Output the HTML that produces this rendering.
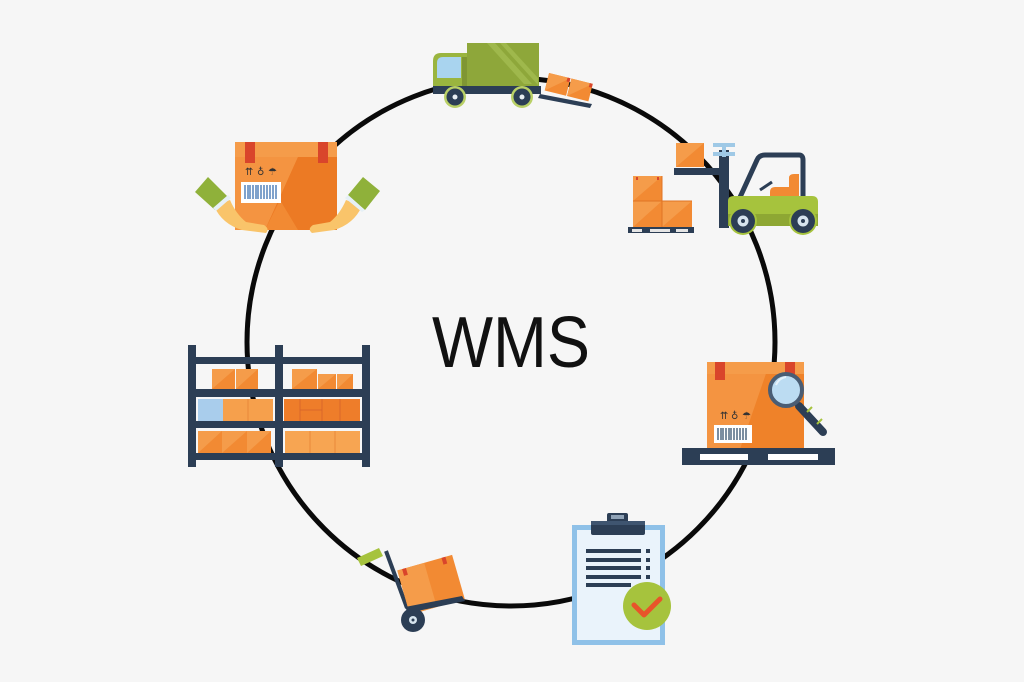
<!DOCTYPE html>
<html><head><meta charset="utf-8"><style>
html,body{margin:0;padding:0;background:#f6f6f6;}
svg{display:block;}
</style></head><body>
<svg width="1024" height="682" viewBox="0 0 1024 682" xmlns="http://www.w3.org/2000/svg">
<rect width="1024" height="682" fill="#f6f6f6"/>
<!-- main circle -->
<circle cx="511" cy="342" r="264" fill="none" stroke="#0a0a0a" stroke-width="5"/>
<text x="432" y="367" font-family="'Liberation Sans', 'DejaVu Sans', sans-serif" font-size="72" fill="#111" textLength="158" lengthAdjust="spacingAndGlyphs">WMS</text>

<!-- TRUCK -->
<g>
 <rect x="467" y="43" width="72" height="47" fill="#8ea73a"/>
 <polygon points="487,43 495,43 532,84 524,84" fill="#9fb84c"/>
 <polygon points="500,43 506,43 538,78 538,85" fill="#9fb84c"/>
 <path d="M433,92 V61 Q433,53 441,53 H467 V92Z" fill="#9ab53f"/>
 <path d="M437,78 V63 Q437,57 443,57 H461 V78Z" fill="#a9d4ef"/>
 <rect x="462" y="57" width="5" height="30" fill="#7f9633"/>
 <rect x="433" y="86" width="108" height="8" fill="#2c3e55"/>
 <circle cx="455" cy="97" r="11" fill="#b9d066"/>
 <circle cx="455" cy="97" r="8.5" fill="#2c3e55"/>
 <circle cx="455" cy="97" r="2.5" fill="#e8eef2"/>
 <circle cx="522" cy="97" r="11" fill="#b9d066"/>
 <circle cx="522" cy="97" r="8.5" fill="#2c3e55"/>
 <circle cx="522" cy="97" r="2.5" fill="#e8eef2"/>
 <polygon points="540,94 592,104 590,108 538,98" fill="#2c3e55"/>
 <g transform="rotate(14 568 88)">
  <rect x="546" y="78" width="22" height="18" fill="#f28a33"/>
  <rect x="569" y="78" width="22" height="18" fill="#f28a33"/>
  <polygon points="546,78 568,78 546,96" fill="#f59c4a"/>
  <polygon points="569,78 591,78 569,96" fill="#f59c4a"/>
  <rect x="565" y="78" width="3" height="4" fill="#d9452b"/>
  <rect x="588" y="78" width="3" height="4" fill="#d9452b"/>
 </g>
</g>

<!-- FORKLIFT -->
<g>
 <rect x="628" y="227" width="66" height="6" fill="#2c3e55"/>
 <rect x="632" y="229" width="10" height="3" fill="#e5e5e5"/>
 <rect x="650" y="229" width="20" height="3" fill="#e5e5e5"/>
 <rect x="676" y="229" width="12" height="3" fill="#e5e5e5"/>
 <rect x="633" y="176" width="29" height="25" fill="#f28a33"/>
 <rect x="633" y="201" width="29" height="26" fill="#f28a33"/>
 <rect x="662" y="201" width="30" height="26" fill="#f28a33"/>
 <polygon points="633,176 662,176 633,201" fill="#f59c4a"/>
 <polygon points="633,201 662,201 633,227" fill="#f59c4a"/>
 <polygon points="662,201 692,201 662,227" fill="#f59c4a"/>
 <line x1="662" y1="176" x2="662" y2="227" stroke="#e07424" stroke-width="1"/>
 <line x1="633" y1="201" x2="692" y2="201" stroke="#e07424" stroke-width="1"/>
 <rect x="636" y="177" width="2" height="3" fill="#d9452b"/>
 <rect x="657" y="177" width="2" height="3" fill="#d9452b"/>
 <rect x="676" y="143" width="28" height="24" fill="#f28a33"/>
 <polygon points="676,143 704,143 676,167" fill="#f59c4a"/>
 <rect x="674" y="168" width="52" height="7" fill="#2c3e55"/>
 <rect x="719" y="150" width="10" height="78" fill="#2c3e55"/>
 <rect x="713" y="143" width="22" height="4" fill="#9fc9e6"/>
 <rect x="713" y="152" width="22" height="4" fill="#9fc9e6"/>
 <rect x="722" y="145" width="4" height="12" fill="#9fc9e6"/>
 <path d="M736,206 L757,160 Q759,155 765,155 H799 Q803,155 803,160 V197" fill="none" stroke="#2c3e55" stroke-width="5"/>
 <line x1="760" y1="190" x2="772" y2="182" stroke="#2c3e55" stroke-width="3"/>
 <path d="M770,206 V192 Q770,187 775,187 H789 V178 Q789,174 794,174 H799 V206Z" fill="#f28a33"/>
 <path d="M728,226 V201 Q728,196 734,196 H812 Q818,196 818,202 V226Z" fill="#a6c33d"/>
 <rect x="728" y="214" width="90" height="12" fill="#8ea733"/>
 <circle cx="743" cy="221" r="14" fill="#a6c33d"/>
 <circle cx="803" cy="221" r="14" fill="#a6c33d"/>
 <circle cx="743" cy="221" r="12" fill="#2c3e55"/>
 <circle cx="743" cy="221" r="5.5" fill="#d6e4ee"/>
 <circle cx="743" cy="221" r="2" fill="#2c3e55"/>
 <circle cx="803" cy="221" r="12" fill="#2c3e55"/>
 <circle cx="803" cy="221" r="5.5" fill="#d6e4ee"/>
 <circle cx="803" cy="221" r="2" fill="#2c3e55"/>
</g>

<!-- HANDS WITH BOX -->
<g>
 <rect x="235" y="142" width="102" height="88" fill="#ef8229"/>
 <polygon points="235,157 298,157 265,230 235,230" fill="#f49441"/>
 <polygon points="265,230 298,157 337,157 337,230" fill="#ec7a24"/>
 <polygon points="280,200 298,230 265,230" fill="#f28a33"/>
 <rect x="235" y="142" width="102" height="15" fill="#f59c4a"/>
 <rect x="245" y="142" width="10" height="21" fill="#d9452b"/>
 <rect x="318" y="142" width="10" height="21" fill="#d9452b"/>
 <g fill="#333" font-family="'DejaVu Sans',sans-serif" font-size="10"><text x="245" y="175">⇈</text><text x="257" y="175">♁</text><text x="268" y="175">☂</text></g>
 <rect x="241" y="182" width="40" height="21" fill="#ffffff"/>
 <g stroke="#3a6fb0" stroke-width="1.3">
  <line x1="245" y1="185" x2="245" y2="199"/><line x1="248" y1="185" x2="248" y2="199"/><line x1="250" y1="185" x2="250" y2="199"/><line x1="253" y1="185" x2="253" y2="199"/><line x1="256" y1="185" x2="256" y2="199"/><line x1="258" y1="185" x2="258" y2="199"/><line x1="261" y1="185" x2="261" y2="199"/><line x1="264" y1="185" x2="264" y2="199"/><line x1="267" y1="185" x2="267" y2="199"/><line x1="270" y1="185" x2="270" y2="199"/><line x1="273" y1="185" x2="273" y2="199"/><line x1="276" y1="185" x2="276" y2="199"/>
 </g>
 <path d="M214,206 Q222,224 242,230 L266,233 Q270,229 264,225 L246,222 Q236,214 230,200Z" fill="#f9c46a"/>
 <path d="M362,206 Q354,224 334,230 L312,233 Q307,229 313,225 L330,222 Q340,214 346,200Z" fill="#f9c46a"/>
 <polygon points="195,192 208,177 228,197 215,210" fill="#8fb13a"/>
 <polygon points="213,208 228,195 231,198 216,211" fill="#e6f0f6"/>
 <polygon points="348,195 363,177 380,191 365,210" fill="#8fb13a"/>
 <polygon points="345,198 348,195 365,210 362,212" fill="#e6f0f6"/>
</g>

<!-- SHELVES -->
<g>
 <!-- row1 -->
 <rect x="212" y="369" width="23" height="20" fill="#f28a33"/><polygon points="212,369 235,369 212,389" fill="#f59c4a"/>
 <rect x="236" y="369" width="22" height="20" fill="#f28a33"/><polygon points="236,369 258,369 236,389" fill="#f59c4a"/>
 <rect x="292" y="369" width="25" height="20" fill="#f28a33"/><polygon points="292,369 317,369 292,389" fill="#f59c4a"/>
 <rect x="318" y="374" width="18" height="15" fill="#f28a33"/><polygon points="318,374 336,374 318,389" fill="#f59c4a"/>
 <rect x="337" y="374" width="16" height="15" fill="#f28a33"/><polygon points="337,374 353,374 337,389" fill="#f59c4a"/>
 <!-- row2 -->
 <rect x="198" y="399" width="25" height="22" fill="#a9cdec"/>
 <rect x="223" y="399" width="25" height="22" fill="#f6a04c"/>
 <rect x="248" y="399" width="25" height="22" fill="#f6a04c"/>
 <line x1="248" y1="399" x2="248" y2="421" stroke="#e8893a"/>
 <rect x="284" y="399" width="76" height="22" fill="#ee7d2a"/>
 <g stroke="#d9662a" stroke-width="1"><line x1="300" y1="399" x2="300" y2="421"/><line x1="322" y1="399" x2="322" y2="421"/><line x1="300" y1="410" x2="322" y2="410"/><line x1="340" y1="399" x2="340" y2="421"/></g>
 <!-- row3 -->
 <rect x="198" y="431" width="24" height="22" fill="#f28a33"/><polygon points="198,431 222,431 198,453" fill="#f59c4a"/>
 <rect x="222" y="431" width="25" height="22" fill="#f28a33"/><polygon points="222,431 247,431 222,453" fill="#f59c4a"/>
 <rect x="247" y="431" width="24" height="22" fill="#f28a33"/><polygon points="247,431 271,431 247,453" fill="#f59c4a"/>
 <rect x="285" y="431" width="75" height="22" fill="#f7a552"/>
 <g stroke="#e8893a" stroke-width="1"><line x1="310" y1="431" x2="310" y2="453"/><line x1="335" y1="431" x2="335" y2="453"/></g>
 <!-- frame -->
 <g fill="#2c3e55">
  <rect x="188" y="345" width="8" height="122"/>
  <rect x="275" y="345" width="8" height="122"/>
  <rect x="362" y="345" width="8" height="122"/>
  <rect x="188" y="357" width="182" height="7"/>
  <rect x="188" y="389" width="182" height="8"/>
  <rect x="188" y="421" width="182" height="7"/>
  <rect x="188" y="453" width="182" height="7"/>
 </g>
</g>

<!-- BOX INSPECT -->
<g>
 <rect x="707" y="362" width="97" height="87" fill="#ef8229"/>
 <polygon points="707,362 770,362 740,449 707,449" fill="#f49441"/>
 <rect x="707" y="362" width="97" height="12" fill="#f59c4a"/>
 <rect x="715" y="362" width="10" height="18" fill="#d9452b"/>
 <rect x="785" y="362" width="10" height="18" fill="#d9452b"/>
 <g fill="#333" font-family="'DejaVu Sans',sans-serif" font-size="10"><text x="720" y="419">⇈</text><text x="731" y="419">♁</text><text x="742" y="419">☂</text></g>
 <rect x="714" y="425" width="38" height="18" fill="#ffffff"/>
 <g stroke="#34506e" stroke-width="1.3">
  <line x1="718" y1="428" x2="718" y2="440"/><line x1="721" y1="428" x2="721" y2="440"/><line x1="723" y1="428" x2="723" y2="440"/><line x1="726" y1="428" x2="726" y2="440"/><line x1="729" y1="428" x2="729" y2="440"/><line x1="731" y1="428" x2="731" y2="440"/><line x1="734" y1="428" x2="734" y2="440"/><line x1="737" y1="428" x2="737" y2="440"/><line x1="740" y1="428" x2="740" y2="440"/><line x1="743" y1="428" x2="743" y2="440"/><line x1="746" y1="428" x2="746" y2="440"/>
 </g>
 <line x1="799" y1="406" x2="823" y2="432" stroke="#2c3e55" stroke-width="8" stroke-linecap="round"/>
 <line x1="807" y1="412" x2="812" y2="407" stroke="#a6c33d" stroke-width="2"/>
 <line x1="817" y1="424" x2="822" y2="419" stroke="#a6c33d" stroke-width="2"/>
 <circle cx="786" cy="390" r="16" fill="#bcdcf2" stroke="#4a5d74" stroke-width="4"/>
 <path d="M776,385 Q779,378 786,377" stroke="#e6f2fb" stroke-width="2" fill="none"/>
 <rect x="682" y="448" width="153" height="17" fill="#2c3e55"/>
 <rect x="700" y="454" width="48" height="6" fill="#ffffff"/>
 <rect x="768" y="454" width="50" height="6" fill="#ffffff"/>
</g>

<!-- HAND TRUCK -->
<g>
 <polygon points="357,558 379,548 383,556 361,566" fill="#a6c33d"/>
 <line x1="386" y1="551" x2="407" y2="608" stroke="#2c3e55" stroke-width="4"/>
 <g transform="rotate(-16 430 583)">
  <rect x="402" y="562" width="57" height="46" fill="#f28a33"/>
  <rect x="402" y="562" width="28" height="46" fill="#f59c4a"/>
  <rect x="407" y="562" width="4" height="7" fill="#d9452b"/>
  <rect x="448" y="562" width="4" height="7" fill="#d9452b"/>
 </g>
 <polygon points="405,607 462,596 465,601 408,613" fill="#2c3e55"/>
 <circle cx="413" cy="620" r="12" fill="#2c3e55"/>
 <circle cx="413" cy="620" r="4" fill="#d6e4ee"/>
 <circle cx="413" cy="620" r="1.5" fill="#2c3e55"/>
</g>

<!-- CLIPBOARD -->
<g>
 <rect x="572" y="525" width="93" height="120" fill="#8fc1e8"/>
 <rect x="577" y="530" width="83" height="110" fill="#eaf3fb"/>
 <rect x="607" y="513" width="21" height="10" rx="2" fill="#2c3e55"/>
 <rect x="611" y="515" width="13" height="4" fill="#8fa2b6"/>
 <rect x="591" y="521" width="54" height="14" rx="2" fill="#2c3e55"/>
 <rect x="591" y="521" width="54" height="4" fill="#3f5570"/>
 <g fill="#2c3e55">
  <rect x="586" y="549" width="55" height="4"/><rect x="646" y="549" width="4" height="4"/>
  <rect x="586" y="558" width="55" height="4"/><rect x="646" y="558" width="4" height="4"/>
  <rect x="586" y="566" width="55" height="4"/><rect x="646" y="566" width="4" height="4"/>
  <rect x="586" y="575" width="55" height="4"/><rect x="646" y="575" width="4" height="4"/>
  <rect x="586" y="583" width="45" height="4"/>
 </g>
 <circle cx="647" cy="606" r="24" fill="#a6c33d"/>
 <polyline points="634,605 644,615 660,599" fill="none" stroke="#e8542a" stroke-width="5" stroke-linecap="round" stroke-linejoin="round"/>
</g>
</svg>
</body></html>
